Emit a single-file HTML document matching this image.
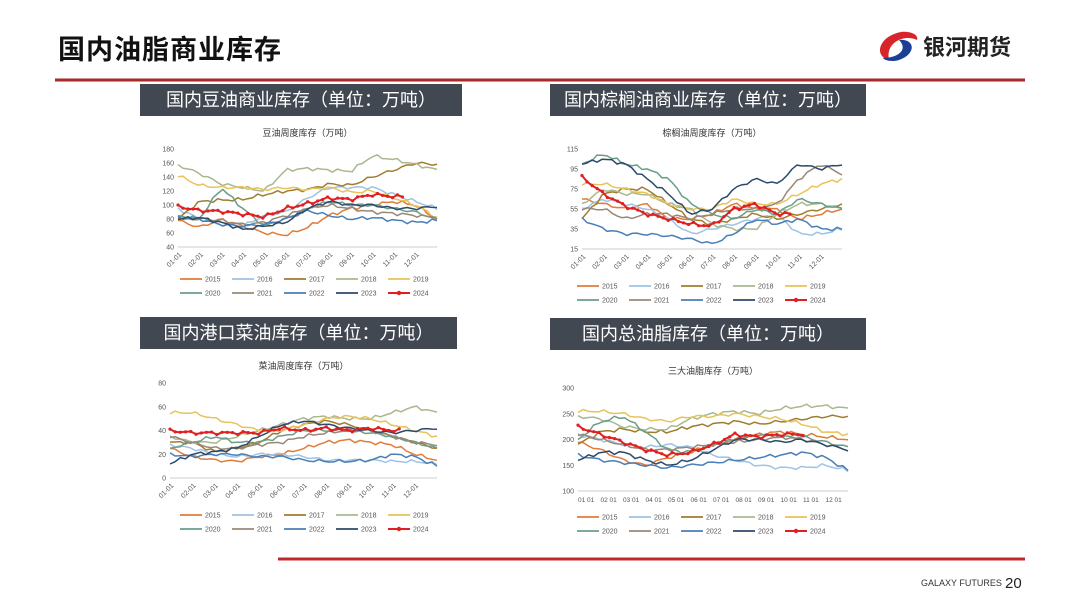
<!DOCTYPE html>
<html><head><meta charset="utf-8">
<style>
body{margin:0;background:#fff;font-family:"Liberation Sans","Noto Sans CJK SC",sans-serif;}
#page{position:relative;width:1080px;height:608px;overflow:hidden;background:#fff}
.ttl{position:absolute;left:58px;top:28px;font-size:27px;font-weight:bold;color:#111;letter-spacing:1px}
.box{position:absolute;background:#414852;color:#fff;font-size:18px;line-height:32px;text-align:center;height:32px}
.ctitle{position:absolute;font-size:10px;color:#333}
svg{position:absolute;left:0;top:0}
</style></head><body>
<div id="page">
<div class="ttl">国内油脂商业库存</div>
<svg width="1080" height="608" id="s">
 <line x1="55" y1="80" x2="1025" y2="80" stroke="#a8282a" stroke-width="3"/>
 <line x1="278" y1="559" x2="1025" y2="559" stroke="#c0282a" stroke-width="3"/>
 <g transform="translate(893,46)">
  <path d="M-4,14 C-20,10 -14,-10 8,-14 C16,-15 26,-12 24,-6 C12,-12 -8,-4 -4,14Z" fill="#d7252b"/>
  <path d="M6,-6 C22,-8 24,8 6,14 C0,16 -8,15 -10,12 C4,12 16,4 6,-6Z" fill="#1b3f94"/>
 </g>
 <text x="923" y="55" font-size="22" font-weight="bold" fill="#222" font-family="Liberation Sans,Noto Sans CJK SC,sans-serif">银河期货</text>
 <text x="921" y="586" font-size="9" fill="#333" font-family="Liberation Sans,sans-serif">GALAXY FUTURES</text>
 <text x="1005" y="588" font-size="15" fill="#222" font-family="Liberation Sans,sans-serif">20</text>
</svg>
<div class="box" style="left:140px;top:84px;width:322px">国内豆油商业库存（单位：万吨）</div>
<div class="box" style="left:550px;top:84px;width:316px">国内棕榈油商业库存（单位：万吨）</div>
<div class="box" style="left:140px;top:317px;width:317px">国内港口菜油库存（单位：万吨）</div>
<div class="box" style="left:550px;top:318px;width:316px">国内总油脂库存（单位：万吨）</div>
</div>
<script>
const NS="http://www.w3.org/2000/svg",S=document.getElementById('s');
function el(t,a,p){const e=document.createElementNS(NS,t);for(const k in a)e.setAttribute(k,a[k]);(p||S).appendChild(e);return e}
function tx(x,y,s,o){const e=el('text',Object.assign({x:x,y:y,'font-size':7,fill:'#555','font-family':'Liberation Sans,Noto Sans CJK SC,sans-serif'},o||{}));e.textContent=s;return e}
const C=['#e07b39','#9dc3e6','#a07d2e','#a9b88f','#e8c35a','#6a9e8a','#998877','#4a7fb5','#2c4a6b','#e02020'];
const Y=['2015','2016','2017','2018','2019','2020','2021','2022','2023','2024'];
function chart(o){
 const {x0,x1,yT,yB,min,max,step,data,end,title,tY,lx,ly,rot}=o;
 tx((x0+x1)/2,tY,title,{'font-size':9,fill:'#333','text-anchor':'middle'});
 const sy=v=>yB-(v-min)/(max-min)*(yB-yT);
 for(let v=min;v<=max;v+=step)tx(x0-4,sy(v)+2.5,String(v),{'text-anchor':'end'});
 el('line',{x1:x0,y1:yB,x2:x1,y2:yB,stroke:'#bbb','stroke-width':0.8});
 const mw=(x1-x0)/12;
 for(let m=0;m<12;m++){const s=(m<9?'0':'')+(m+1)+'-01';
  if(rot)tx(x0+m*mw+4,yB+8,s,{'text-anchor':'end',transform:`rotate(-45 ${x0+m*mw+4} ${yB+8})`});
  else tx(x0+m*mw,yB+11,(m<9?'0':'')+(m+1)+' 01',{'font-size':6.5});}
 data.forEach((d,i)=>{
  const len=i==9?end:12,pts=[];const N=Math.round(len*4.3);
  for(let k=0;k<=N;k++){const t=k/N*len;const j=Math.min(Math.floor(t),d.length-2),f=t-j;
   let v=d[j]+(d[j+1]-d[j])*f+(max-min)*0.012*Math.sin(k*1.7+i*3)+(max-min)*0.008*Math.sin(k*3.1+i);
   pts.push([x0+t*mw,sy(v)]);}
  el('polyline',{points:pts.map(p=>p[0].toFixed(1)+','+p[1].toFixed(1)).join(' '),fill:'none',stroke:C[i],'stroke-width':i==9?2:1.5});
  if(i==9)pts.forEach(p=>el('circle',{cx:p[0],cy:p[1],r:1.6,fill:C[9]}));
 });
 for(let i=0;i<10;i++){const c=i%5,r=Math.floor(i/5);const x=lx+c*52,y=ly+r*14;
  el('line',{x1:x,y1:y,x2:x+22,y2:y,stroke:C[i],'stroke-width':i==9?2:1.8});
  if(i==9)el('circle',{cx:x+11,cy:y,r:2.2,fill:C[9]});
  tx(x+25,y+2.5,Y[i]);}
}
chart({x0:178,x1:437,yT:149,yB:247,min:40,max:180,step:20,end:10.4,rot:1,title:'豆油周度库存（万吨）',tY:136,lx:180,ly:279,data:[
[78,68,80,70,60,57,68,85,95,100,105,100,80],[95,80,72,70,85,90,110,125,125,125,115,105,95],[80,105,107,108,115,120,122,130,128,140,150,160,158],[157,145,130,125,120,150,152,150,148,170,165,158,150],[142,128,125,125,122,125,122,125,118,120,110,100,82],[85,80,125,95,70,80,95,105,100,100,95,90,80],[80,80,78,72,75,85,95,100,95,90,88,85,82],[82,80,72,70,72,80,92,85,80,82,78,75,78],[80,82,75,65,70,75,95,105,100,100,95,95,98],[98,92,91,87,83,95,102,110,108,115,112,112]]});
chart({x0:582,x1:842,yT:149,yB:249,min:15,max:115,step:20,end:9.6,rot:1,title:'棕榈油周度库存（万吨）',tY:136,lx:577,ly:286,data:[
[65,60,55,60,45,45,50,60,55,55,45,50,55],[55,65,60,55,45,30,35,40,45,50,30,30,35],[45,70,75,75,60,45,40,45,50,45,50,55,60],[60,75,70,70,60,55,40,35,35,50,60,60,55],[80,80,75,70,60,55,55,65,60,60,70,80,85],[100,110,100,95,85,60,50,45,55,50,65,60,55],[55,55,45,50,50,45,50,55,55,60,85,100,90],[45,35,30,30,28,25,20,30,45,40,45,35,35],[100,105,100,85,70,50,55,75,85,80,100,95,100],[87,70,58,50,45,40,38,55,60,50,50,50]]});
chart({x0:170,x1:437,yT:383,yB:478,min:0,max:80,step:20,end:10.3,rot:1,title:'菜油周度库存（万吨）',tY:369,lx:180,ly:515,data:[
[25,18,15,14,18,20,25,30,32,30,28,20,15],[28,25,20,18,20,20,18,15,15,15,14,14,12],[30,30,22,25,30,40,45,48,45,40,35,30,25],[35,30,30,35,40,45,50,52,50,50,55,60,55],[55,55,50,45,40,40,45,50,52,50,45,40,35],[25,30,35,30,30,35,40,40,40,38,35,30,25],[35,30,25,25,28,30,35,38,40,40,35,30,28],[20,18,20,20,18,18,15,14,14,15,20,18,10],[12,20,22,25,35,45,48,45,42,40,38,40,42],[40,38,38,38,38,42,40,42,40,42,40,40]]});
chart({x0:578,x1:848,yT:388,yB:491,min:100,max:300,step:50,end:10,rot:0,title:'三大油脂库存（万吨）',tY:374,lx:577,ly:517,data:[
[195,180,160,150,165,175,190,200,210,215,210,205,200],[210,200,190,185,190,185,170,160,150,145,145,150,140],[190,215,220,215,215,225,230,235,230,235,240,245,245],[245,240,225,220,220,240,250,255,250,260,265,265,260],[255,255,250,240,235,245,245,250,245,240,230,215,210],[200,235,245,215,180,175,190,200,210,205,205,195,185],[210,200,190,180,180,185,190,195,200,205,200,190,180],[170,160,155,150,145,150,155,160,165,170,175,165,140],[160,175,175,160,150,160,180,200,200,195,200,190,180],[225,210,195,180,170,175,190,210,205,210,210,210]]});
</script>
</body></html>
